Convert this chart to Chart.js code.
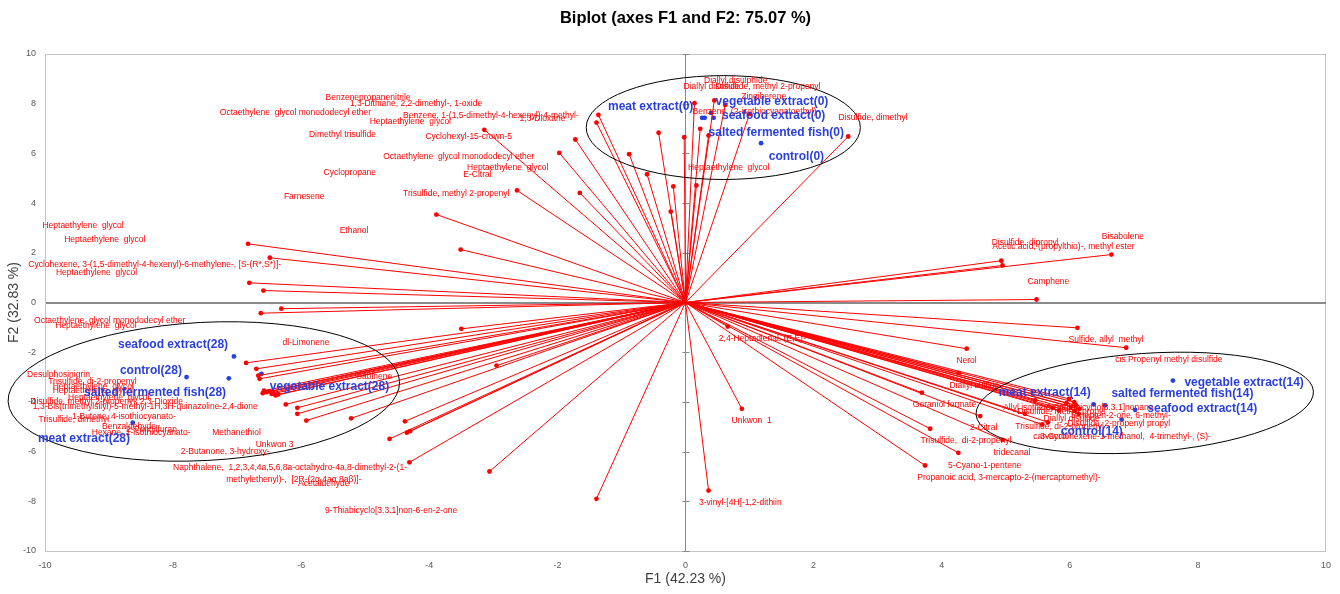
<!DOCTYPE html>
<html>
<head>
<meta charset="utf-8">
<script src="https://cdn.jsdelivr.net/npm/chart.js@4.4.1/dist/chart.umd.min.js"></script>
<style>
  body { margin: 0; background: #fff; }
  #wrap { width: 1340px; height: 594px; }
</style>
</head>
<body>
<div id="wrap"><canvas id="biplot" width="1340" height="594"></canvas></div>
<script>
// variable loadings (end of each red vector)
const varX = [
  -1.36, -1.39, -3.14, -1.72, -1.97, -0.88, -0.42, -0.60, -2.63, -1.65, -0.19, -0.23, -0.02, 0.14, 0.45, 0.62, 0.23, 0.36, 0.17, 1.00, 2.54, -3.51, -3.89,
  -6.83, -6.49, -6.81, -6.59, -6.31, -6.63,
  -3.50, -6.86, -6.70, -6.67, -6.65, -6.54, -6.58, -6.50, -6.46, -6.44, -6.40, -6.36, -6.60, -6.24, -6.06, -6.06, -5.92, -5.22, -4.38, -4.35, -4.30, -4.62, -4.31, -2.95,
  -3.06, -1.39, 0.36, 0.88, 0.66,
  4.93, 4.95, 6.65, 5.48, 6.12, 6.88, 4.39, 4.27, 3.69, 4.60, 3.82, 4.95, 4.26, 3.74, 5.30, 5.46, 5.57, 5.66, 5.73, 5.99, 6.07, 6.10, 6.15, 6.14, 5.83, 5.95, 6.02, 6.08
];
const varY = [
  7.55, 7.24, 6.95, 6.56, 6.02, 5.97, 6.83, 5.16, 4.51, 4.41, 4.67, 3.66, 6.65, 8.02, 8.13, 7.95, 6.99, 6.72, 4.71, 7.59, 6.68, 2.13, 3.54,
  2.36, 1.80, 0.79, 0.48, -0.25, -0.43,
  -1.06, -2.43, -2.67, -2.94, -3.07, -3.61, -3.55, -3.58, -3.68, -3.62, -3.74, -3.70, -3.65, -4.10, -4.24, -4.48, -4.75, -4.66, -4.78, -5.24, -5.18, -5.49, -6.43, -2.54,
  -6.80, -7.90, -7.57, -4.28, -0.97,
  1.68, 1.49, 1.93, 0.12, -1.02, -1.82, -1.86, -2.84, -3.63, -4.57, -5.08, -5.53, -6.05, -6.56, -4.48, -3.94, -4.91, -4.82, -4.24, -3.88, -4.01, -4.14, -4.28, -4.48, -4.35, -4.05, -4.20, -4.35
];

// variable labels, as placed on the plot
const labelText = [
  'Benzenepropanenitrile', '1,3-Dithiane, 2,2-dimethyl-, 1-oxide', 'Octaethylene  glycol monododecyl ether',
  'Benzene, 1-(1,5-dimethyl-4-hexenyl)-4-methyl-', 'Heptaethylene  glycol', 'Dimethyl trisulfide', 'Cyclohexyl-15-crown-5',
  'Octaethylene  glycol monododecyl ether', 'Cyclopropane', 'Farnesene', 'Trisulfide, methyl 2-propenyl', '1,3-Dioxane',
  'Heptaethylene  glycol', 'E-Citral', 'Heptaethylene  glycol', 'Diallyl disulphide', 'Diallyl disulfide',
  'Disulfide, methyl 2-propenyl', 'Zingiberene', 'Benzene, (2-isothiocyanatoethyl)-', 'Disulfide, dimethyl', 'Ethanol',
  'Heptaethylene  glycol', 'Heptaethylene  glycol', 'Cyclohexene, 3-(1,5-dimethyl-4-hexenyl)-6-methylene-, [S-(R*,S*)]-',
  'Heptaethylene  glycol', 'Octaethylene  glycol monododecyl ether', 'Heptaethylene  glycol', 'dl-Limonene',
  'Desulphosinigrin', 'Trisulfide, di-2-propenyl', 'Heptaethylene  glycol', 'Heptaethylene  glycol', 'Heptaethylene  glycol',
  'Disulfide, methyl 2-propenyl, 2,3-Dioxide', '1,3-Bis(trimethylsilyl)-5-methyl-1H,3H-quinazoline-2,4-dione',
  '1-Butene, 4-isothiocyanato-', 'Trisulfide, dimethyl', 'Benzaldehyde', '2-Pentylfuran', 'Hexane, 1-isothiocyanato-',
  'Methanethiol', 'Unkwon 3', '2-Butanone, 3-hydroxy-', 'Naphthalene,  1,2,3,4,4a,5,6,8a-octahydro-4a,8-dimethyl-2-(1-',
  'methylethenyl)-,  [2R-(2α,4aα,8aβ)]-', 'Acetaldehyde', '9-Thiabicyclo[3.3.1]non-6-en-2-one', 'Sabinene',
  '2,4-Heptadienal, (E,E)-', 'Unkwon  1', '3-vinyl-[4H]-1,2-dithiin',
  'Bisabolene', 'Disulfide, dipropyl', 'Acetic acid, (propylthio)-, methyl ester', 'Camphene', 'Sulfide, allyl  methyl',
  'Nerol', 'cis Propenyl methyl disulfide', 'Diallyl sulfide', 'Geraniol formate', 'Allyl isothiocyanate',
  '2,6-Dithiabicyclo[3.3.1]nonane', 'Disulfide, methyl propyl', 'Diallyl disulfide', '5-Hepten-2-one, 6-methyl-',
  'Trisulfide, di-2-propenyl', 'Disulfide, 2-propenyl propyl', '2-Citral', 'carvacrol',
  '3-Cyclohexene-1-methanol,  4-trimethyl-, (S)-', 'Trisulfide,  di-2-propenyl', 'tridecanal', '5-Cyano-1-pentene',
  'Propanoic acid, 3-mercapto-2-(mercaptomethyl)-'
];
const labelX = [
  -5.62, -5.24, -7.27, -4.41, -4.93, -5.88, -4.06, -4.72, -5.65, -6.27, -4.41, -2.59,
  -3.41, -3.47, 0.04, 0.29, -0.03, 0.47, 0.87, 0.11, 2.39, -5.40,
  -10.04, -9.70, -10.26, -9.83, -10.17, -9.84, -6.29,
  -10.28, -9.95, -9.88, -9.88, -9.64, -10.23, -10.19,
  -9.58, -10.10, -9.11, -8.73, -9.27, -7.39, -6.71, -7.88, -8.00,
  -7.17, -6.05, -5.63, -5.14,
  0.52, 0.72, 0.21,
  6.50, 4.78, 4.79, 5.34, 5.98, 4.23, 6.71, 4.12, 3.55, 4.96,
  5.52, 5.18, 5.59, 6.02, 5.15, 5.96, 4.44, 5.43, 5.54, 3.67, 4.81, 4.10, 3.62
];
const labelY = [
  8.26, 8.02, 7.65, 7.50, 7.26, 6.76, 6.68, 5.88, 5.23, 4.27, 4.39, 7.39,
  5.42, 5.15, 5.42, 8.91, 8.70, 8.70, 8.30, 7.66, 7.43, 2.90,
  3.11, 2.54, 1.53, 1.22, -0.72, -0.93, -1.60,
  -2.90, -3.17, -3.38, -3.54, -3.81, -4.01, -4.19,
  -4.58, -4.72, -4.99, -5.11, -5.22, -5.22, -5.73, -6.00, -6.65,
  -7.12, -7.30, -8.37, -3.00,
  -1.46, -4.75, -8.06,
  2.63, 2.40, 2.25, 0.82, -1.50, -2.33, -2.31, -3.34, -4.10, -4.24,
  -4.24, -4.41, -4.68, -4.55, -4.99, -4.88, -5.04, -5.38, -5.38, -5.55, -6.05, -6.57, -7.03
];

// observations (samples)
const obsNames = [
  'meat extract(0)', 'vegetable extract(0)', 'seafood extract(0)', 'salted fermented fish(0)', 'control(0)',
  'meat extract(14)', 'vegetable extract(14)', 'seafood extract(14)', 'salted fermented fish(14)', 'control(14)',
  'meat extract(28)', 'vegetable extract(28)', 'seafood extract(28)', 'salted fermented fish(28)', 'control(28)'
];
const obsX = [0.26, 0.40, 0.44, 0.30, 1.18, 6.37, 7.61, 7.02, 6.55, 6.81, -8.63, -6.62, -7.05, -7.13, -7.79];
const obsY = [7.43, 7.63, 7.43, 7.43, 6.41, -4.10, -3.14, -4.32, -4.14, -4.71, -4.84, -2.87, -2.17, -3.05, -3.00];
const obsLabelX = [-1.21, 0.47, 0.57, 0.36, 1.30, 4.89, 7.79, 7.21, 6.65, 5.86, -10.11, -6.49, -8.86, -9.39, -8.83];
const obsLabelY = [7.86, 8.10, 7.50, 6.83, 5.88, -3.61, -3.23, -4.28, -3.68, -5.19, -5.49, -3.38, -1.70, -3.61, -2.74];

// group ellipses (centre and half axes in F1/F2 units)
const ellX = [0.59, -7.52, 7.17];
const ellY = [7.04, -3.58, -4.04];
const ellRX = [2.14, 3.06, 2.64];
const ellRY = [2.09, 2.78, 1.99];
const ellTilt = [0, -3, -4];

const ticks = [-10, -8, -6, -4, -2, 0, 2, 4, 6, 8, 10];

const RED = '#ff0000';
const BLUE = '#2a3fe0';

const datasets = varX.map((x, i) => ({
  data: [{ x: 0, y: 0 }, { x: x, y: varY[i] }],
  showLine: true,
  borderColor: RED,
  borderWidth: 1,
  pointRadius: [0, 2.4],
  pointBackgroundColor: RED,
  pointBorderWidth: 0
}));
datasets.push({
  data: obsX.map((x, i) => ({ x: x, y: obsY[i] })),
  showLine: false,
  pointRadius: 2.4,
  pointBackgroundColor: BLUE,
  pointBorderWidth: 0
});

const gridColor = (c) => {
  const v = c.tick.value;
  if (v === 0) return '#8a8a8a';
  if (v === 10 || v === -10) return '#c4c4c4';
  return 'rgba(0,0,0,0)';
};

const decor = {
  id: 'decor',
  beforeDatasetsDraw(chart) {
    const { ctx, scales: { x, y } } = chart;
    ctx.save();
    // tick marks along the vertical zero axis
    ctx.strokeStyle = '#8a8a8a';
    ctx.lineWidth = 1;
    const x0 = x.getPixelForValue(0);
    ticks.forEach(t => {
      const py = Math.round(y.getPixelForValue(t)) + 0.5;
      ctx.beginPath(); ctx.moveTo(x0 - 3, py); ctx.lineTo(x0 + 4, py); ctx.stroke();
    });
    ctx.restore();
  },
  afterDatasetsDraw(chart) {
    const { ctx, scales: { x, y } } = chart;
    ctx.save();
    // ellipses
    ctx.strokeStyle = '#000';
    ctx.lineWidth = 1;
    ellX.forEach((cx, i) => {
      const px = x.getPixelForValue(cx), py = y.getPixelForValue(ellY[i]);
      const rx = Math.abs(x.getPixelForValue(cx + ellRX[i]) - px);
      const ry = Math.abs(y.getPixelForValue(ellY[i] + ellRY[i]) - py);
      ctx.beginPath();
      ctx.ellipse(px, py, rx, ry, ellTilt[i] * Math.PI / 180, 0, Math.PI * 2);
      ctx.stroke();
    });
    // variable labels
    ctx.fillStyle = RED;
    ctx.font = '8.5px "Liberation Sans", Arial, sans-serif';
    ctx.textAlign = 'left';
    ctx.textBaseline = 'middle';
    labelText.forEach((t, i) => {
      ctx.fillText(t, x.getPixelForValue(labelX[i]), y.getPixelForValue(labelY[i]));
    });
    // observation labels
    ctx.fillStyle = BLUE;
    ctx.font = 'bold 12px "Liberation Sans", Arial, sans-serif';
    obsNames.forEach((t, i) => {
      ctx.fillText(t, x.getPixelForValue(obsLabelX[i]), y.getPixelForValue(obsLabelY[i]));
    });
    ctx.restore();
  },
  afterDraw(chart) {
    const { ctx, chartArea: a } = chart;
    ctx.save();
    ctx.fillStyle = '#000';
    ctx.textAlign = 'center';
    ctx.textBaseline = 'middle';
    ctx.font = 'bold 16.5px "Liberation Sans", Arial, sans-serif';
    ctx.fillText('Biplot (axes F1 and F2: 75.07 %)', (a.left + a.right) / 2, 18);
    ctx.fillStyle = '#404040';
    ctx.font = '14px "Liberation Sans", Arial, sans-serif';
    ctx.fillText('F1 (42.23 %)', (a.left + a.right) / 2, 579);
    ctx.translate(14, (a.top + a.bottom) / 2);
    ctx.rotate(-Math.PI / 2);
    ctx.fillText('F2 (32.83 %)', 0, 0);
    ctx.restore();
  }
};

new Chart(document.getElementById('biplot'), {
  type: 'scatter',
  data: { datasets: datasets },
  options: {
    responsive: false,
    animation: false,
    layout: { padding: { top: 54, right: 13, left: 0, bottom: 0 } },
    plugins: { legend: { display: false }, tooltip: { enabled: false } },
    scales: {
      x: {
        type: 'linear', min: -10, max: 10,
        afterFit: (s) => { s.height = 43; },
        afterBuildTicks: (s) => { s.ticks = ticks.map(v => ({ value: v })); },
        grid: { color: gridColor, lineWidth: 1, drawTicks: false },
        border: { color: '#c4c4c4' },
        ticks: { padding: 9, color: '#595959', font: { size: 9, family: '"Liberation Sans", Arial' } }
      },
      y: {
        type: 'linear', min: -10, max: 10,
        afterFit: (s) => { s.width = 45; },
        afterBuildTicks: (s) => { s.ticks = ticks.map(v => ({ value: v })); },
        grid: { color: gridColor, lineWidth: (c) => c.tick.value === 0 ? 2 : 1, drawTicks: false },
        border: { color: '#c4c4c4' },
        ticks: { padding: 9, color: '#595959', font: { size: 9, family: '"Liberation Sans", Arial' } }
      }
    }
  },
  plugins: [decor]
});
</script>
</body>
</html>
